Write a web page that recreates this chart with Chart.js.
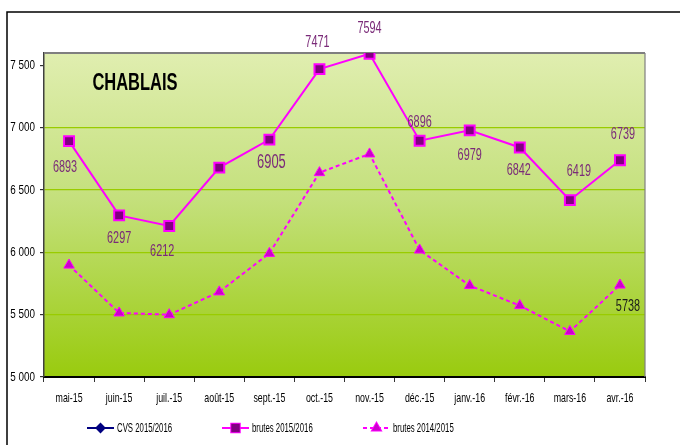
<!DOCTYPE html>
<html>
<head>
<meta charset="utf-8">
<script src="https://cdn.jsdelivr.net/npm/chart.js@4.4.1/dist/chart.umd.min.js"></script>
<style>
  html, body { margin: 0; padding: 0; background: #fff; }
  #wrap { width: 680px; height: 445px; }
</style>
</head>
<body>
<div id="wrap"><canvas id="grafico" width="680" height="445"></canvas></div>
<script>
// donnees
const mois = ["mai-15", "juin-15", "juil.-15", "août-15", "sept.-15", "oct.-15", "nov.-15", "déc.-15", "janv.-16", "févr.-16", "mars-16", "avr.-16"]
const cvs1516 = [null, null, null, null, null, null, null, null, null, null, null, null]
const brutes1516 = [6893, 6297, 6212, 6680, 6905, 7471, 7594, 6896, 6979, 6842, 6419, 6739]
const brutes1415 = [5898, 5514, 5500, 5683, 5992, 6640, 6790, 6019, 5734, 5573, 5366, 5738]
const ticksY = [5000, 5500, 6000, 6500, 7000, 7500]

// etiquettes affichees (null = pas d'etiquette)
const etiquettes1516 = [6893, 6297, 6212, null, 6905, 7471, 7594, 6896, 6979, 6842, 6419, 6739]
const etiquettes1415 = [null, null, null, null, null, null, null, null, null, null, null, 5738]
// decalage de chaque etiquette par rapport a son point [dx, dy]
const decal1516 = [[-4, 26], [0, 23], [-7, 25], null, [2, 23], [-2, -27], [0, -25], [0, -18], [0, 25], [-1, 23], [9, -29], [3, -26]]
const decal1415 = [null, null, null, null, null, null, null, null, null, null, null, [8, 21]]

// Arial Narrow n'existe pas ici : Liberation Sans comprimee a la main
const police = "'Liberation Sans', Arial, sans-serif"

const fmt = (v) => {
  const s = String(v)
  return s.length > 3 ? s.slice(0, s.length - 3) + " " + s.slice(-3) : s
}

const texte = (ctx, txt, x, y, kx, ky) => {
  ctx.save()
  ctx.translate(x, y)
  ctx.scale(kx, ky)
  ctx.fillText(txt, 0, 0)
  ctx.restore()
}

const decor = {
  id: "decor",
  beforeDraw: (chart) => {
    const { ctx, chartArea: a } = chart
    ctx.save()
    ctx.fillStyle = "#fff"
    ctx.fillRect(0, 0, chart.width, chart.height)
    const g = ctx.createLinearGradient(0, a.top, 0, a.bottom)
    g.addColorStop(0, "#e0eeb0")
    g.addColorStop(0.45, "#c4e07c")
    g.addColorStop(1, "#99cb0e")
    ctx.fillStyle = g
    ctx.fillRect(a.left, a.top, a.right - a.left, a.bottom - a.top)
    // cadre exterieur
    ctx.strokeStyle = "#000"
    ctx.lineWidth = 1.5
    ctx.beginPath()
    ctx.moveTo(7, chart.height)
    ctx.lineTo(7, 12)
    ctx.lineTo(chart.width, 12)
    ctx.stroke()
    ctx.restore()
  },
  beforeDatasetsDraw: (chart) => {
    const { ctx, chartArea: a } = chart
    ctx.save()
    ctx.strokeStyle = "#7f7f7f"
    ctx.lineWidth = 2
    ctx.beginPath()
    ctx.moveTo(a.left, a.top)
    ctx.lineTo(a.right, a.top)
    ctx.stroke()
    ctx.lineWidth = 1.2
    ctx.beginPath()
    ctx.moveTo(a.right, a.top)
    ctx.lineTo(a.right, a.bottom)
    ctx.stroke()
    // titre
    ctx.fillStyle = "#000"
    ctx.font = "bold 22px " + police
    ctx.textAlign = "center"
    ctx.textBaseline = "middle"
    texte(ctx, "CHABLAIS", 135, 84, 0.75, 1.05)

    // libelles des axes
    ctx.font = "13px " + police
    const ex = chart.scales.x
    ex.ticks.forEach((t, i) => {
      texte(ctx, ex.getLabelForValue(t.value), ex.getPixelForTick(i), 398, 0.68, 1.05)
    })
    const ey = chart.scales.y
    ctx.font = "13px " + police
    ctx.textAlign = "right"
    ey.ticks.forEach((t) => {
      texte(ctx, fmt(t.value), 35, ey.getPixelForValue(t.value), 0.76, 1.0)
    })
    ctx.restore()
  },
  afterDatasetsDraw: (chart) => {
    const { ctx } = chart
    ctx.save()
    ctx.textAlign = "center"
    ctx.textBaseline = "middle"
    const poser = (idx, etiq, decal, couleur) => {
      const pts = chart.getDatasetMeta(idx).data
      etiq.forEach((v, i) => {
        if (v === null) return
        const p = pts[i]
        ctx.fillStyle = couleur
        ctx.font = (v === 6905 ? "19px " : "16px ") + police
        texte(ctx, String(v), p.x + decal[i][0], p.y + decal[i][1], 0.68, 1.05)
      })
    }
    poser(1, etiquettes1516, decal1516, "#7a2a78")
    poser(2, etiquettes1415, decal1415, "#1a1a1a")

    // legende
    const y = 428
    const items = [
      { ds: chart.data.datasets[0], x: 87 },
      { ds: chart.data.datasets[1], x: 222 },
      { ds: chart.data.datasets[2], x: 363 }
    ]
    items.forEach((it) => {
      const ds = it.ds
      ctx.strokeStyle = ds.borderColor
      ctx.lineWidth = ds.borderWidth
      ctx.setLineDash(ds.borderDash || [])
      ctx.beginPath()
      ctx.moveTo(it.x, y)
      ctx.lineTo(it.x + 27, y)
      ctx.stroke()
      ctx.setLineDash([])
      Chart.helpers.drawPoint(ctx, {
        pointStyle: ds.pointStyle,
        radius: ds.legendRadius,
        borderWidth: 1
      }, it.x + 13.5, y)
      ctx.fillStyle = ds.pointBackgroundColor
      ctx.strokeStyle = ds.pointBorderColor
      ctx.fill()
      ctx.fillStyle = "#000"
      ctx.font = "13px " + police
      ctx.textAlign = "left"
      texte(ctx, ds.label, it.x + 30, y, 0.6, 1.05)
    })
    ctx.restore()
  }
}

new Chart(document.getElementById("grafico"), {
  type: "line",
  data: {
    labels: mois,
    datasets: [
      {
        label: "CVS 2015/2016",
        data: cvs1516,
        borderColor: "#000080",
        borderWidth: 2,
        pointStyle: "rectRot",
        pointRadius: 4,
        legendRadius: 4,
        pointBackgroundColor: "#000080",
        pointBorderColor: "#000080"
      },
      {
        label: "brutes 2015/2016",
        data: brutes1516,
        borderColor: "#ff00ff",
        borderWidth: 2,
        pointStyle: "rect",
        pointRadius: 7,
        legendRadius: 6,
        pointBorderWidth: 2,
        pointBackgroundColor: "#800080",
        pointBorderColor: "#ff00ff"
      },
      {
        label: "brutes 2014/2015",
        data: brutes1415,
        borderColor: "#ff00ff",
        borderWidth: 2,
        borderDash: [4, 3],
        pointStyle: "triangle",
        pointRadius: 6,
        legendRadius: 5,
        pointBorderWidth: 1,
        pointBackgroundColor: "#cc00cc",
        pointBorderColor: "#ff00ff"
      }
    ]
  },
  options: {
    responsive: false,
    animation: false,
    layout: { padding: { left: 0, top: 53, right: 35, bottom: 0 } },
    plugins: {
      legend: { display: false },
      tooltip: { enabled: false }
    },
    elements: { line: { tension: 0 } },
    scales: {
      x: {
        offset: true,
        afterFit: (s) => { s.height = 68 },
        grid: {
          offset: true,
          drawOnChartArea: false,
          tickLength: 5,
          tickColor: "#333"
        },
        border: { color: "#000", width: 2 },
        ticks: { display: false, autoSkip: false }
      },
      y: {
        min: 5000,
        max: 7600,
        afterFit: (s) => { s.width = 44 },
        afterBuildTicks: (s) => { s.ticks = ticksY.map((v) => ({ value: v })) },
        grid: {
          color: (c) => (c.tick && c.tick.value > 5000 && c.tick.value < 7500 ? "#99cc00" : "rgba(0,0,0,0)"),
          lineWidth: 1.2,
          tickLength: 4,
          tickColor: "#333"
        },
        border: { color: "#404040", width: 1.5 },
        ticks: { display: false }
      }
    }
  },
  plugins: [decor]
})
</script>
</body>
</html>
